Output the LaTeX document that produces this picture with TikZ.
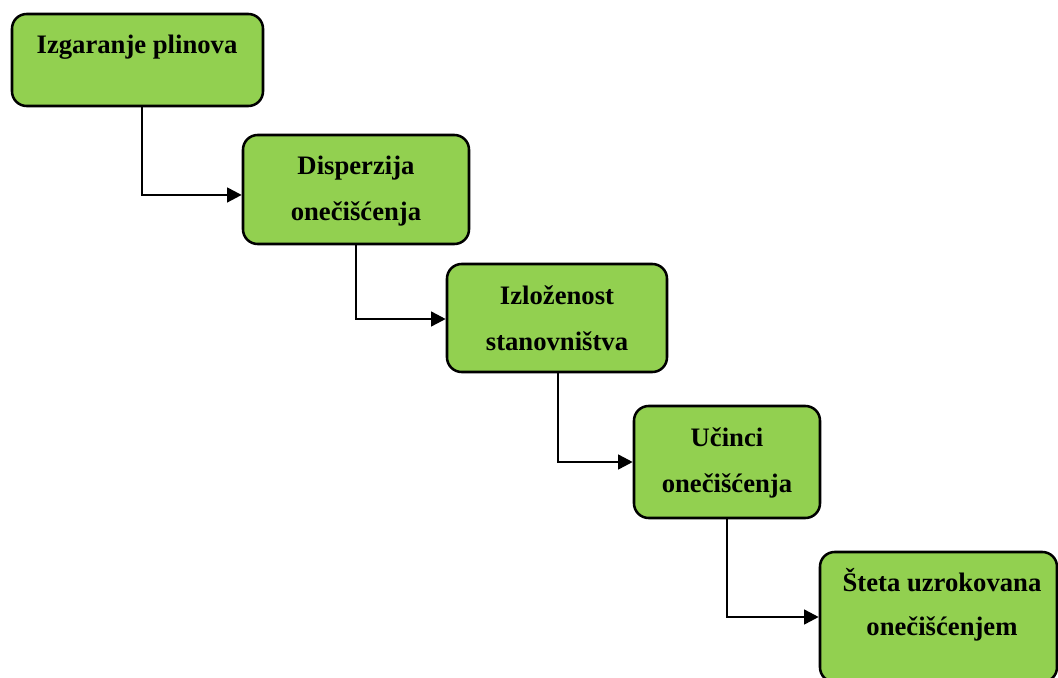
\documentclass[tikz,border=0pt]{standalone}
\usepackage{fontspec}
\setmainfont{Liberation Serif}
\usetikzlibrary{arrows.meta,calc}
\definecolor{boxgreen}{HTML}{92D050}
\tikzset{
  box/.style={draw=black, fill=boxgreen, line width=1.9pt, rounded corners=11pt, inner sep=0pt},
  lbl/.style={anchor=base, inner sep=0pt, font=\fontsize{20}{24}\selectfont\bfseries},
  conn/.style={line width=1.9pt, -{Triangle[length=11pt,width=11pt]}}
}
\begin{document}
\begin{tikzpicture}[x=0.75pt,y=-0.75pt]
\useasboundingbox (0,0) rectangle (1058,678);
\node[box, minimum width=188.25pt, minimum height=69pt] (b1) at (137.5,60) {};
\node[box, minimum width=169.5pt, minimum height=81.75pt] (b2) at (356,189.5) {};
\node[box, minimum width=165pt, minimum height=81pt] (b3) at (557,318) {};
\node[box, minimum width=139.5pt, minimum height=84pt] (b4) at (727,462) {};
\node[box, minimum width=177.75pt, minimum height=97.5pt] (b5) at (938.5,617) {};

\node[lbl] (t1) at (137,53) {Izgaranje plinova};
\node[lbl] (t2a) at (356,174) {Disperzija};
\node[lbl] (t2b) at (356,220) {onečišćenja};
\node[lbl] (t3a) at (557,304) {Izloženost};
\node[lbl] (t3b) at (557,350) {stanovništva};
\node[lbl] (t4a) at (727,446) {Učinci};
\node[lbl] (t4b) at (727,492) {onečišćenja};
\node[lbl] (t5a) at (942,591) {Šteta uzrokovana};
\node[lbl] (t5b) at (942,635) {onečišćenjem};

\draw[conn] ([xshift=3.4pt]b1.south) |- ([yshift=-4.1pt]b2.west);
\draw[conn] (b2.south) |- ([yshift=-0.75pt]b3.west);
\draw[conn] ([xshift=0.75pt]b3.south) |- (b4.west);
\draw[conn] (b4.south) |- (b5.west);
\end{tikzpicture}
\end{document}
